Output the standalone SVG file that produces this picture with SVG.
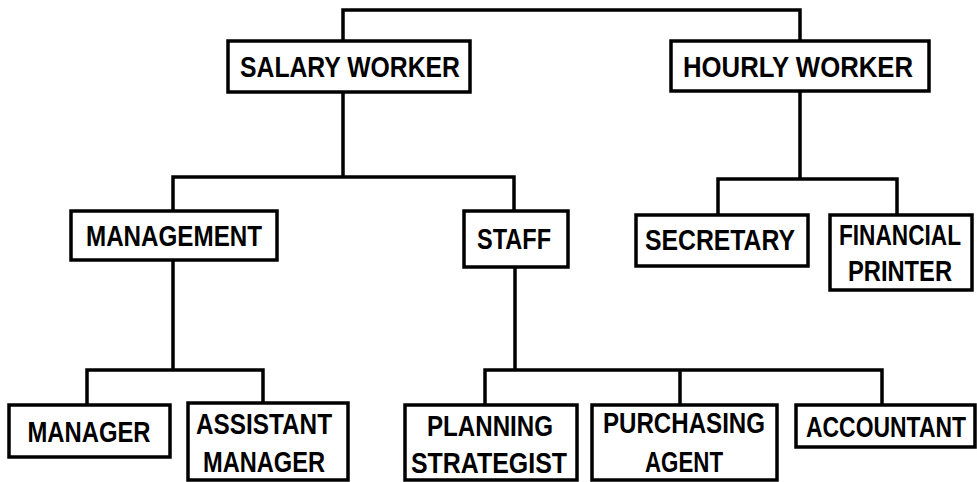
<svg xmlns="http://www.w3.org/2000/svg" width="977" height="482" viewBox="0 0 977 482">
<style>
.box{fill:#fff;stroke:#000;stroke-width:3.5}
.edge{fill:none;stroke:#000;stroke-width:3.5;stroke-linecap:square}
text{font-family:"Liberation Sans","DejaVu Sans",sans-serif;font-size:29px;font-weight:bold;fill:#000;text-anchor:middle}
</style>
<rect width="977" height="482" fill="#fff"/>
<g id="connectors">
<path class="edge" d="M343,41 V10 H800 V41"/>
<path class="edge" d="M343,92 V177 M173,211 V177 H514 V211"/>
<path class="edge" d="M800,91 V179 M718,215 V179 H897 V215"/>
<path class="edge" d="M173,260 V370 M87,405 V370 H263 V403"/>
<path class="edge" d="M515,267 V370 M485,405 V370 H882 V405 M680,370 V405"/>
</g>
<g id="salary-worker"><rect class="box" x="228" y="41" width="242" height="51"/><text x="350" y="77" textLength="220" lengthAdjust="spacingAndGlyphs">SALARY WORKER</text></g>
<g id="hourly-worker"><rect class="box" x="671" y="41" width="258" height="50"/><text x="798" y="77" textLength="230" lengthAdjust="spacingAndGlyphs">HOURLY WORKER</text></g>
<g id="management"><rect class="box" x="71" y="211" width="206" height="49"/><text x="174" y="246" textLength="176" lengthAdjust="spacingAndGlyphs">MANAGEMENT</text></g>
<g id="staff"><rect class="box" x="464" y="211" width="104" height="56"/><text x="514" y="249" textLength="74" lengthAdjust="spacingAndGlyphs">STAFF</text></g>
<g id="secretary"><rect class="box" x="636" y="215" width="172" height="51"/><text x="720" y="250" textLength="150" lengthAdjust="spacingAndGlyphs">SECRETARY</text></g>
<g id="financial-printer"><rect class="box" x="830" y="215" width="142" height="75"/><text x="900" y="245" textLength="122" lengthAdjust="spacingAndGlyphs">FINANCIAL</text><text x="900" y="281" textLength="104" lengthAdjust="spacingAndGlyphs">PRINTER</text></g>
<g id="manager"><rect class="box" x="9" y="405" width="161" height="52"/><text x="89" y="442" textLength="123" lengthAdjust="spacingAndGlyphs">MANAGER</text></g>
<g id="assistant-manager"><rect class="box" x="188" y="403" width="160" height="77"/><text x="264" y="434" textLength="136" lengthAdjust="spacingAndGlyphs">ASSISTANT</text><text x="264" y="472" textLength="122" lengthAdjust="spacingAndGlyphs">MANAGER</text></g>
<g id="planning-strategist"><rect class="box" x="405" y="405" width="172" height="75"/><text x="490" y="436" textLength="126" lengthAdjust="spacingAndGlyphs">PLANNING</text><text x="489" y="473" textLength="156" lengthAdjust="spacingAndGlyphs">STRATEGIST</text></g>
<g id="purchasing-agent"><rect class="box" x="592" y="405" width="185" height="75"/><text x="684" y="433" textLength="162" lengthAdjust="spacingAndGlyphs">PURCHASING</text><text x="684" y="472" textLength="78" lengthAdjust="spacingAndGlyphs">AGENT</text></g>
<g id="accountant"><rect class="box" x="796" y="405" width="179" height="42"/><text x="886" y="437" textLength="160" lengthAdjust="spacingAndGlyphs">ACCOUNTANT</text></g>
</svg>
